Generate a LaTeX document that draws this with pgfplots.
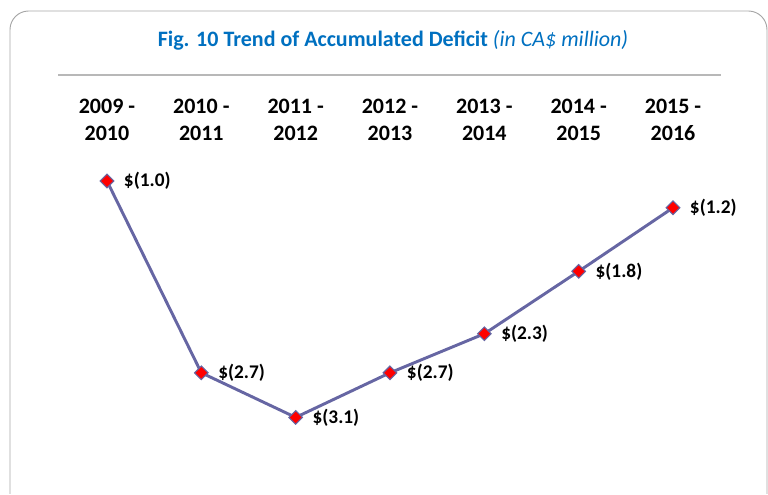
\documentclass[border=0pt]{standalone}
\usepackage{pgfplots}
\pgfplotsset{compat=1.18}
\usepackage{fontspec}
\setmainfont{Carlito}
\definecolor{titleblue}{HTML}{0070C0}
\definecolor{linepurple}{HTML}{6666A3}
\definecolor{framegray}{HTML}{A6A6A6}
\begin{document}
\begin{tikzpicture}
\begin{axis}[
  scale only axis,
  width=576pt, height=261.75pt,
  xmin=-1.134, xmax=7.007,
  ymin=-3.807, ymax=-0.677,
  axis line style={draw=none},
  major tick length=0pt,
  ytick=\empty,
  xtick={0,1,2,3,4,5,6},
  xticklabels={{2009 -\\2010},{2010 -\\2011},{2011 -\\2012},{2012 -\\2013},{2013 -\\2014},{2014 -\\2015},{2015 -\\2016}},
  xticklabel pos=right,
  xticklabel style={align=center, font=\fontsize{16.5}{20}\selectfont\bfseries, text=black},
  clip=false,
  nodes near coords,
  point meta=explicit symbolic,
  every node near coord/.style={anchor=west, xshift=9pt, font=\fontsize{14.5}{17}\selectfont\bfseries, text=black},
]
\addplot[color=linepurple, line width=2.2pt,
  mark=square*, mark size=3.6pt,
  mark options={rotate=45, fill=red, draw=linepurple, line width=0.8pt}]
  coordinates {
  (0,-1.00) [\$(1.0)]
  (1,-2.72) [\$(2.7)]
  (2,-3.12) [\$(3.1)]
  (3,-2.72) [\$(2.7)]
  (4,-2.37) [\$(2.3)]
  (5,-1.81) [\$(1.8)]
  (6,-1.24) [\$(1.2)]
  };
\end{axis}
\begin{scope}[x=0.75pt, y=-0.75pt, yshift=370.5pt]
  \path (0,0) rectangle (768,494);
  \draw[framegray, line width=0.7pt, rounded corners=14pt] (10,494) -- (10,11) -- (767,11) -- (767,494);
  \draw[framegray!80, line width=0.8pt] (58,75) -- (721,75);
  \node[font=\fontsize{16.5}{19}\selectfont, text=titleblue] at (393,40)
    {\textbf{Fig. 10 Trend of Accumulated Deficit} \textit{(in CA\$ million)}};
\end{scope}
\end{tikzpicture}
\end{document}
